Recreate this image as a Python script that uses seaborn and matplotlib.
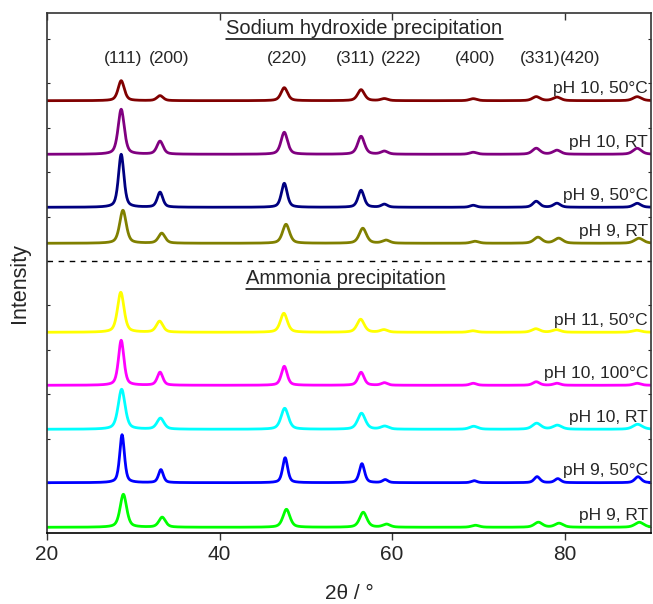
import numpy as np
import pandas as pd
import matplotlib
matplotlib.use("Agg")
import matplotlib.pyplot as plt
from matplotlib.lines import Line2D
import seaborn as sns

# Reflection positions (2theta, deg) and their Miller indices
peak_pos = [28.6, 33.1, 47.5, 56.4, 59.1, 69.4, 76.7, 79.1, 88.4]
hkl_labels = ["(111)", "(200)", "(220)", "(311)", "(222)", "(400)", "(331)", "(420)"]
hkl_label_x = [28.8, 34.1, 47.8, 55.8, 61.0, 69.6, 77.1, 81.8]

# Samples, top to bottom
samples = ["NaOH pH 10, 50°C", "NaOH pH 10, RT", "NaOH pH 9, 50°C", "NaOH pH 9, RT",
           "NH3 pH 11, 50°C", "NH3 pH 10, 100°C", "NH3 pH 10, RT", "NH3 pH 9, 50°C", "NH3 pH 9, RT"]
sample_labels = ["pH 10, 50°C", "pH 10, RT", "pH 9, 50°C", "pH 9, RT",
                 "pH 11, 50°C", "pH 10, 100°C", "pH 10, RT", "pH 9, 50°C", "pH 9, RT"]
colors = ["#800000", "#800080", "#000080", "#808000",
          "#FFFF00", "#FF00FF", "#00FFFF", "#0000FF", "#00FF00"]

# Vertical offsets of each pattern (a.u.)
offsets = [432.3, 378.7, 325.7, 289.7, 200.7, 147.7, 103.7, 50.3, 5.7]

# Peak intensities per sample, same order as peak_pos (a.u.)
heights = [
    [20, 5, 13, 11, 2, 2, 4, 3.5, 4],
    [45, 13, 22, 18, 3, 2, 6, 4, 6],
    [53, 15, 24, 17, 3, 2, 6, 4, 4],
    [33, 10, 19, 15, 3, 2, 6, 5, 5],
    [40, 11, 19, 13, 2.5, 1.5, 3.5, 2.5, 2],
    [45, 13, 19, 13, 2.5, 2, 3.5, 2, 2],
    [40, 11, 21, 16, 3, 3, 6, 4, 5],
    [48, 13, 25, 19, 3, 2, 6, 4, 6],
    [33, 10, 18, 15, 3, 2, 5, 4, 5],
]
# Peak width (FWHM of the (111) reflection, deg) and zero shift per sample
fwhm_111 = [0.85, 0.85, 0.75, 0.9, 0.9, 0.75, 0.95, 0.65, 0.9]
zero_shift = [0.0, 0.0, 0.0, 0.2, -0.05, 0.0, 0.05, 0.1, 0.25]

x_ticks = [20, 40, 60, 80]
two_theta = np.linspace(20, 90, 1401)


def pseudo_voigt(x, x0, fwhm, eta=0.5):
    g = np.exp(-4 * np.log(2) * ((x - x0) / fwhm) ** 2)
    l = 1.0 / (1.0 + 4 * ((x - x0) / fwhm) ** 2)
    return eta * l + (1 - eta) * g


frames = []
for name, off, hs, w, sh in zip(samples, offsets, heights, fwhm_111, zero_shift):
    y = np.full_like(two_theta, off)
    for p, h in zip(peak_pos, hs):
        # Scherrer-type broadening with angle
        fw = w * np.cos(np.radians(peak_pos[0] / 2)) / np.cos(np.radians(p / 2))
        y += h * pseudo_voigt(two_theta, p + sh, fw)
    frames.append(pd.DataFrame({"2theta": two_theta, "I": y, "sample": name}))
df = pd.concat(frames, ignore_index=True)

sns.set_style("ticks")
plt.rcParams["font.family"] = ["Liberation Sans", "DejaVu Sans"]

fig = plt.figure(figsize=(6.53, 6.04), dpi=100)
ax = fig.add_axes([47 / 653, 71 / 604, 604 / 653, 520 / 604])

sns.lineplot(data=df, x="2theta", y="I", hue="sample", hue_order=samples,
             palette=dict(zip(samples, colors)), sort=False, legend=False,
             linewidth=2.0, ax=ax)

ax.set_xlim(20, 90)
ax.set_ylim(0, 520)
ax.set_xticks(x_ticks)
ax.set_yticks(np.arange(5.6, 520, 44.4))
ax.set_yticklabels([])
ax.tick_params(axis="x", bottom=True, top=False, direction="out",
               length=5, width=1, labelsize=15, pad=4, color="#333333")
ax.tick_params(axis="y", left=True, right=True, direction="in", length=2.5, width=0.8)
for s in ax.spines.values():
    s.set_linewidth(1.2)
    s.set_color("#333333")
ax.spines["bottom"].set_color("black")

# Inward tick marks along the top frame
ax.vlines(x_ticks, 0.987, 1.0, transform=ax.get_xaxis_transform(),
          colors="#333333", linewidth=1, clip_on=False)

ax.set_xlabel("2θ / °", fontsize=15, labelpad=14)
ax.set_ylabel("Intensity", fontsize=15.5)
ax.yaxis.set_label_coords(-0.028, 0.48)

# Sample labels on the right of each pattern
for lab, off in zip(sample_labels, offsets):
    ax.text(0.995, off + 7.5, lab, transform=ax.get_yaxis_transform(),
            ha="right", va="baseline", fontsize=12.5)

# Reflection indices
for lab, xv in zip(hkl_labels, hkl_label_x):
    ax.text(xv, 474, lab, ha="center", va="center", fontsize=12.5)

# Separator between the two precipitation routes
ax.axhline(272, color="black", lw=1, ls=(0, (4, 4)))

t1 = ax.text(56.8, 504, "Sodium hydroxide precipitation", ha="center", va="center", fontsize=14.5)
t2 = ax.text(54.6, 254, "Ammonia precipitation", ha="center", va="center", fontsize=14.5)

fig.canvas.draw()
renderer = fig.canvas.get_renderer()
for t in (t1, t2):
    bb = t.get_window_extent(renderer).transformed(fig.transFigure.inverted())
    yline = bb.y0 - 0.3 / 604
    fig.add_artist(Line2D([bb.x0, bb.x1], [yline, yline], color="black", lw=1.1))

fig.savefig("out.png", dpi=100)
